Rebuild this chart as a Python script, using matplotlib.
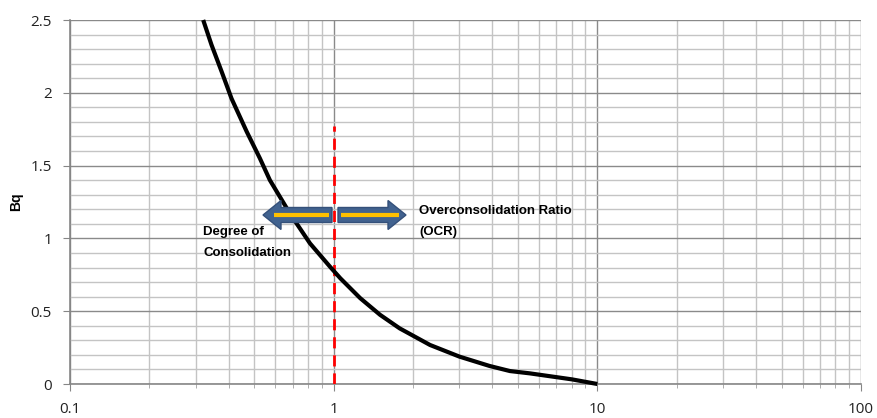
import numpy as np
import matplotlib
matplotlib.use("Agg")
import matplotlib.pyplot as plt
from matplotlib.patches import FancyArrow
from matplotlib.ticker import LogLocator, MultipleLocator, FixedFormatter, FixedLocator

# curve: OCR vs Bq
ocr = [0.32, 0.344, 0.376, 0.41, 0.468, 0.525, 0.573, 0.683, 0.813, 0.968, 1.06, 1.26, 1.5,
       1.78, 2.32, 3.0, 3.9, 4.66, 5.55, 8, 10]
bq = [2.5, 2.33, 2.145, 1.96, 1.733, 1.55, 1.40, 1.17, 0.966, 0.806, 0.726, 0.59, 0.475,
      0.382, 0.268, 0.188, 0.124, 0.089, 0.073, 0.032, 0.0]

x_ticks = [0.1, 1, 10, 100]
x_labels = ["0.1", "1", "10", "100"]
divider_x = 1
divider_top = 1.77

fig = plt.figure(figsize=(8.77, 4.18), dpi=100)
ax = fig.add_axes([70 / 877, 34 / 418, 791 / 877, 364 / 418])

ax.set_xscale("log")
ax.set_xlim(0.1, 100)
ax.set_ylim(0, 2.5)

# grid
ax.xaxis.set_major_locator(FixedLocator(x_ticks))
ax.xaxis.set_major_formatter(FixedFormatter(x_labels))
ax.xaxis.set_minor_locator(LogLocator(base=10, subs=np.arange(2, 10)))
ax.xaxis.set_minor_formatter(FixedFormatter([]))
ax.yaxis.set_major_locator(MultipleLocator(0.5))
ax.yaxis.set_minor_locator(MultipleLocator(0.1))
ax.yaxis.set_major_formatter(plt.FuncFormatter(lambda v, p: f"{v:g}"))

ax.grid(True, which="minor", color="#c4c4c4", lw=1.0)
ax.grid(True, which="major", color="#8a8a8a", lw=1.0)
ax.set_axisbelow(True)

for s in ["top", "right"]:
    ax.spines[s].set_visible(False)
for s in ["left", "bottom"]:
    ax.spines[s].set_color("#868686")
    ax.spines[s].set_linewidth(1.2)

ax.tick_params(which="major", length=5, color="#868686", labelsize=11, pad=8,
               labelcolor="#222222")
ax.tick_params(axis="y", which="minor", length=0)
ax.tick_params(axis="x", which="minor", length=3, color="#a0a0a0")
for lab in ax.get_xticklabels() + ax.get_yticklabels():
    lab.set_fontfamily("Open Sans")

ax.set_ylabel("Bq", fontsize=10, fontweight="bold", family="Liberation Sans", labelpad=5)

# curve and divider
ax.plot(ocr, bq, color="black", lw=3, zorder=5, clip_on=False, solid_capstyle="butt",
        solid_joinstyle="round")
ax.plot([divider_x, divider_x], [0, divider_top], color="red", lw=2, ls=(0, (4, 2.5)), zorder=4)

# arrows (axes fraction)
yc = (384 - 215) / 364
blue = "#41628f"
def frac(px):
    return (px - 70) / 791

la = FancyArrow(frac(332), yc, frac(263) - frac(332), 0, width=15 / 364, head_width=29 / 364,
                head_length=18 / 791, length_includes_head=True, transform=ax.transAxes,
                facecolor=blue, edgecolor="#34507a", lw=1, zorder=6)
ra = FancyArrow(frac(338), yc, frac(406) - frac(338), 0, width=15 / 364, head_width=29 / 364,
                head_length=18 / 791, length_includes_head=True, transform=ax.transAxes,
                facecolor=blue, edgecolor="#34507a", lw=1, zorder=6)
ax.add_patch(la)
ax.add_patch(ra)
ax.plot([frac(274), frac(329)], [yc, yc], transform=ax.transAxes, color="#ffc000", lw=3, zorder=7,
        solid_capstyle="butt")
ax.plot([frac(341), frac(399)], [yc, yc], transform=ax.transAxes, color="#ffc000", lw=3, zorder=7,
        solid_capstyle="butt")

# annotations
ax.text(frac(203), (384 - 226) / 364, "Degree of\nConsolidation", transform=ax.transAxes,
        fontsize=9.5, fontweight="bold", family="Liberation Sans", va="top", ha="left",
        linespacing=2.0, zorder=8)
ax.text(frac(419), (384 - 205) / 364, "Overconsolidation Ratio\n(OCR)", transform=ax.transAxes,
        fontsize=9.5, fontweight="bold", family="Liberation Sans", va="top", ha="left",
        linespacing=2.0, zorder=8)

fig.savefig("out.png", dpi=100)
